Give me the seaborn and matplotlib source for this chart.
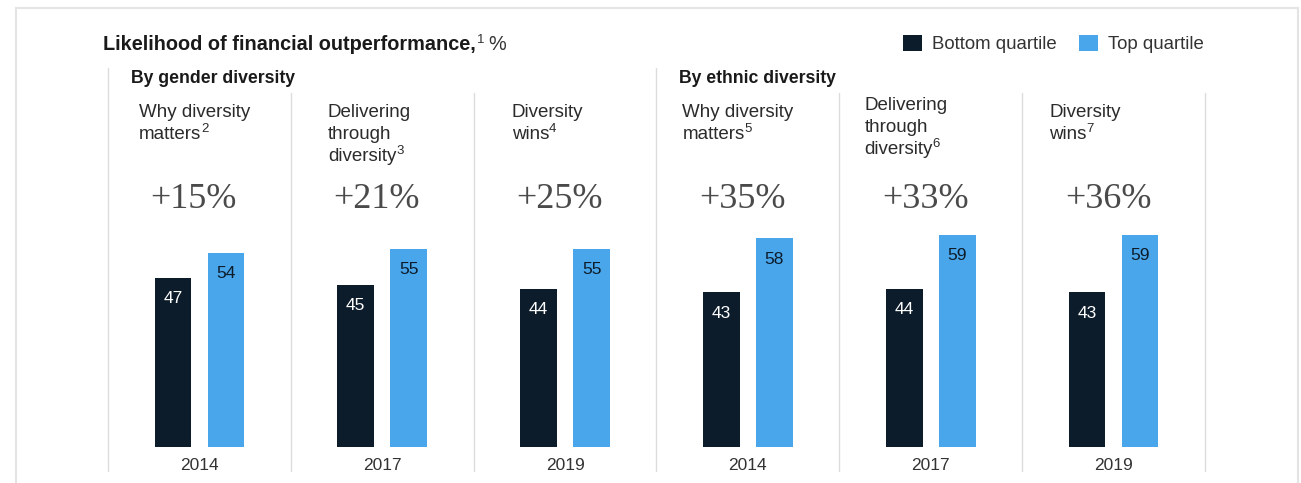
import pandas as pd
import seaborn as sns
import matplotlib.pyplot as plt
from matplotlib.patches import Patch, Rectangle

# data
studies = [['Why diversity', 'matters'], ['Delivering', 'through', 'diversity'], ['Diversity', 'wins'],
           ['Why diversity', 'matters'], ['Delivering', 'through', 'diversity'], ['Diversity', 'wins']]
footnotes = ['2', '3', '4', '5', '6', '7']
years = ['2014', '2017', '2019', '2014', '2017', '2019']
bottom_quartile = [47, 45, 44, 43, 44, 43]
top_quartile = [54, 55, 55, 58, 59, 59]
uplift = ['+15%', '+21%', '+25%', '+35%', '+33%', '+36%']
sections = ['By gender diversity', 'By ethnic diversity']
quartiles = ['Bottom quartile', 'Top quartile']

dark = '#0c1c2b'
blue = '#4aa6ea'
grid_col = '#dcdcdc'
text_col = '#2b2b2b'

sns.set_theme(style='white')
plt.rcParams['font.family'] = ['Liberation Sans', 'DejaVu Sans']

df = pd.DataFrame({
    'panel': list(range(6)) * 2,
    'value': bottom_quartile + top_quartile,
    'quartile': [quartiles[0]] * 6 + [quartiles[1]] * 6,
})

W, H = 1301, 483
fig = plt.figure(figsize=(W / 100, H / 100), dpi=100)
ax = fig.add_axes([108 / W, 36 / H, 1097 / W, 360 / H])

sns.barplot(data=df, x='panel', y='value', hue='quartile', hue_order=quartiles,
            palette=[dark, blue], width=0.58, saturation=1, legend=False, ax=ax)

# narrower bars with a gap inside each pair
for p in ax.patches:
    c = p.get_x() + p.get_width() / 2
    p.set_width(0.2)
    p.set_x(c - 0.1)
    p.set_edgecolor('none')

ax.set_xlim(-0.5, 5.5)
ax.set_ylim(0, 100)
ax.set_xlabel('')
ax.set_ylabel('')
ax.set_yticks([])
ax.set_xticks(range(6))
ax.set_xticklabels(years, fontsize=12.5, color='#333333')
ax.tick_params(axis='x', length=0, pad=8)
for s in ax.spines.values():
    s.set_visible(False)

# values inside the bars
for i in range(6):
    ax.text(i - 0.145, bottom_quartile[i] - 5.8, str(bottom_quartile[i]), ha='center', va='center',
            fontsize=12.5, color='white')
    ax.text(i + 0.145, top_quartile[i] - 5.8, str(top_quartile[i]), ha='center', va='center',
            fontsize=12.5, color=dark)

# panel separators
for k in range(7):
    x = k - 0.5
    top = 1.053 if k in (0, 3) else 0.983
    ax.axvline(x, ymin=-0.067, ymax=top, color=grid_col, lw=1, clip_on=False)

renderer = fig.canvas.get_renderer()
inv = ax.transData.inverted()

# panel titles (one text per line, footnote mark on the last) and uplift numbers
title_pad = [31, 37, 38, 26, 25, 27]
first_base_px = [117, 117, 117, 117, 110, 117]
tx = ax.get_xaxis_transform()
for i in range(6):
    x = i - 0.5 + title_pad[i] / 183
    for n, line in enumerate(studies[i]):
        y = (447 - first_base_px[i] - 22 * n) / 360
        last = ax.text(x, y, line, transform=tx, ha='left', va='baseline',
                       fontsize=13.5, color=text_col)
    x_end = inv.transform((last.get_window_extent(renderer).x1, 0))[0]
    ax.annotate(footnotes[i], xy=(x_end, y), xycoords=tx, xytext=(0, 4.8),
                textcoords='offset points', ha='left', va='baseline', fontsize=9.5,
                color=text_col, annotation_clip=False)
    ax.text(i - 0.03, 0.688, uplift[i], transform=tx,
            ha='center', va='center', fontsize=26, color='#4a4a4a',
            family=['Liberation Serif', 'DejaVu Serif'])

for j, name in enumerate(sections):
    ax.text(3 * j - 0.5 + 23 / 183, 1.025, name, transform=tx,
            ha='left', va='center', fontsize=12.7, fontweight='bold', color='#1a1a1a')

# chart title
ty = 1 - 50 / H
t = fig.text(103 / W, ty, 'Likelihood of financial outperformance,', ha='left',
             va='baseline', fontsize=14.3, fontweight='bold', color='#1a1a1a')
t_end = fig.transFigure.inverted().transform((t.get_window_extent(renderer).x1, 0))[0]
fig.text(t_end + 1 / W, ty + 7 / H, '1', ha='left', va='baseline', fontsize=9.5, color='#333333')
fig.text(t_end + 12 / W, ty, '%', ha='left', va='baseline', fontsize=14.3, color='#333333')

# legend
handles = [Patch(facecolor=dark, edgecolor='none'), Patch(facecolor=blue, edgecolor='none')]
fig.legend(handles, quartiles, loc='center right', bbox_to_anchor=(1213 / W, 1 - 44 / H),
           ncol=2, frameon=False, fontsize=13.4, handlelength=1.0, handleheight=1.0,
           handletextpad=0.55, columnspacing=1.2, borderpad=0, labelcolor='#333333')

# outer frame
fig.patches.append(Rectangle((16 / W, -0.1), (1298 - 16) / W, 1.1 - 8 / H,
                             transform=fig.transFigure, fill=False,
                             edgecolor='#e4e4e4', lw=1.5))

fig.savefig('out.png', dpi=100)
